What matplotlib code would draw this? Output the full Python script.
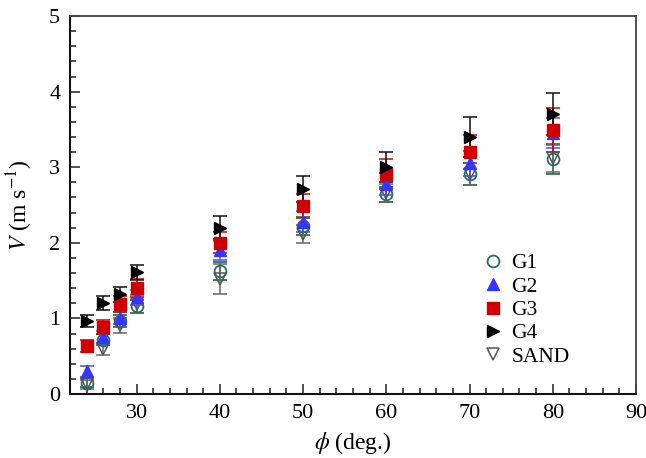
import matplotlib
matplotlib.use("Agg")
import matplotlib.pyplot as plt
from matplotlib.ticker import MultipleLocator

plt.rcParams['font.family'] = ['Liberation Serif', 'DejaVu Serif']
plt.rcParams['mathtext.fontset'] = 'stix'

phi = [24, 26, 28, 30, 40, 50, 60, 70, 80]

g1 = [0.15, 0.72, 0.97, 1.16, 1.63, 2.22, 2.64, 2.91, 3.11]
g1_err = [0.06, 0.07, 0.08, 0.09, 0.12, 0.12, 0.10, 0.14, 0.20]
g2 = [0.30, 0.76, 1.00, 1.28, 1.90, 2.28, 2.78, 3.05, 3.45]
g2_err = [0.07, 0.08, 0.08, 0.10, 0.13, 0.14, 0.15, 0.17, 0.20]
g3 = [0.64, 0.89, 1.19, 1.40, 2.00, 2.49, 2.91, 3.20, 3.49]
g3_err = [0.08, 0.09, 0.10, 0.12, 0.14, 0.16, 0.20, 0.22, 0.29]
g4 = [0.97, 1.20, 1.32, 1.61, 2.20, 2.71, 3.00, 3.40, 3.70]
g4_err = [0.08, 0.09, 0.10, 0.10, 0.15, 0.17, 0.20, 0.26, 0.28]
sand = [0.13, 0.59, 0.91, 1.19, 1.52, 2.12, 2.66, 2.91, 3.12]
sand_err = [0.06, 0.08, 0.10, 0.12, 0.20, 0.12, 0.12, 0.14, 0.18]

fig = plt.figure(figsize=(6.46, 4.58), dpi=100)
ax = fig.add_axes([0.1084, 0.1397, 0.8761, 0.8253])

series = [
    ("G1", g1, g1_err, dict(marker='o', mfc='none', mec='#1f6f6a', ms=8.5, mew=1.3), '#2f7a3a'),
    ("SAND", sand, sand_err, dict(marker='v', mfc='none', mec='#555555', ms=8.5, mew=1.1), '#666666'),
    ("G2", g2, g2_err, dict(marker='^', mfc='#3535ff', mec='#3535ff', ms=8), '#4a4aff'),
    ("G3", g3, g3_err, dict(marker='s', mfc='#d00000', mec='#d00000', ms=8), '#d00000'),
    ("G4", g4, g4_err, dict(marker='>', mfc='black', mec='black', ms=8.5), '#111111'),
]

handles = {}
for name, vals, errs, mstyle, ecol in series:
    h = ax.errorbar(phi, vals, yerr=errs, linestyle='none', ecolor=ecol,
                    elinewidth=1.1, capsize=5, capthick=1.1, label=name, **mstyle)
    handles[name] = h

order = ["G1", "G2", "G3", "G4", "SAND"]
leg = ax.legend([handles[k][0] for k in order], order, loc='upper left',
                bbox_to_anchor=(0.725, 0.372), frameon=False, fontsize=15.5,
                handletextpad=0.25, labelspacing=0.15, handlelength=1.2,
                borderaxespad=0, borderpad=0)

ax.set_xlim(22, 90)
ax.set_ylim(0, 5)
ax.xaxis.set_major_locator(MultipleLocator(10))
ax.xaxis.set_minor_locator(MultipleLocator(2))
ax.yaxis.set_major_locator(MultipleLocator(1))
ax.yaxis.set_minor_locator(MultipleLocator(0.2))
ax.tick_params(which='both', direction='in', top=False, right=False, labelsize=16,
               width=1.1, color='#222222')
ax.tick_params(which='major', length=7, pad=7)
ax.tick_params(which='minor', length=4)

for side in ['left', 'bottom']:
    ax.spines[side].set_linewidth(1.5)
    ax.spines[side].set_color('#111111')
for side in ['top', 'right']:
    ax.spines[side].set_linewidth(1.3)
    ax.spines[side].set_color('#444444')

ax.set_xlabel(r'$\phi$ (deg.)', fontsize=17, labelpad=5)
ax.set_ylabel(r'$V$ (m s$^{-1}$)', fontsize=17, labelpad=10)

fig.savefig('out.png', dpi=100)
